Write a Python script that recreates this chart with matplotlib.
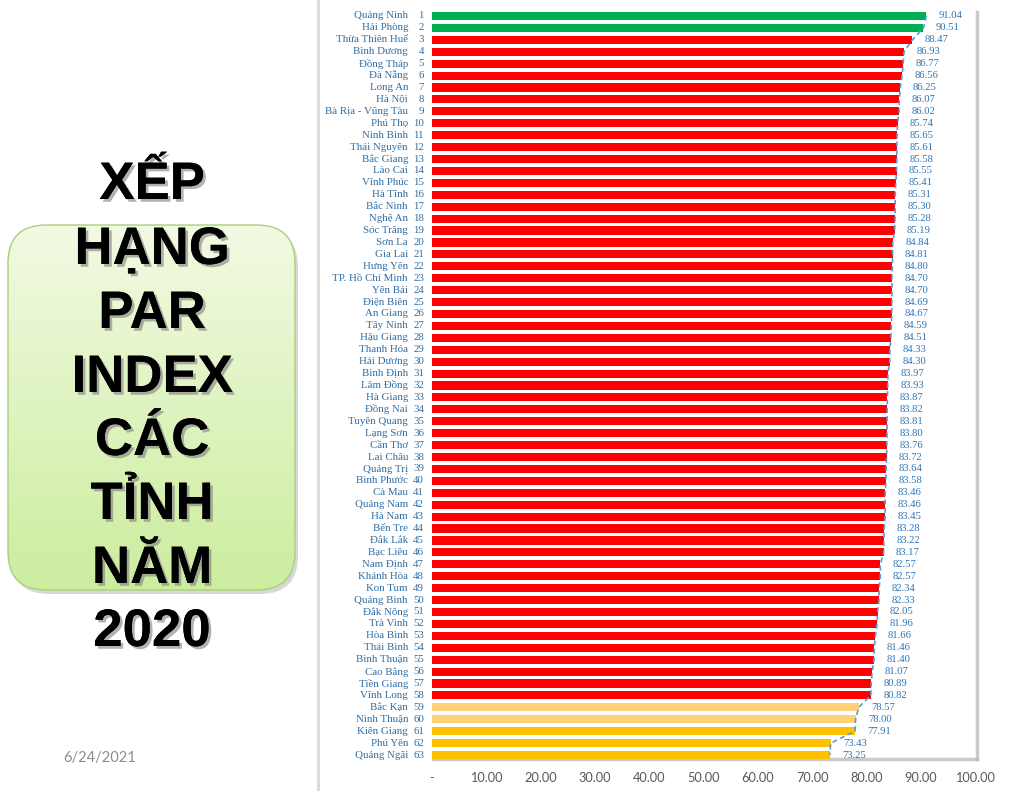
import matplotlib
matplotlib.use("Agg")
import matplotlib.pyplot as plt
import matplotlib.transforms as mtransforms
import matplotlib.patheffects as pe
from matplotlib.patches import FancyBboxPatch
import numpy as np

provinces = ["Quảng Ninh", "Hải Phòng", "Thừa Thiên Huế", "Bình Dương", "Đồng Tháp", "Đà Nẵng",
             "Long An", "Hà Nội", "Bà Rịa - Vũng Tàu", "Phú Thọ", "Ninh Bình", "Thái Nguyên",
             "Bắc Giang", "Lào Cai", "Vĩnh Phúc", "Hà Tĩnh", "Bắc Ninh", "Nghệ An", "Sóc Trăng",
             "Sơn La", "Gia Lai", "Hưng Yên", "TP. Hồ Chí Minh", "Yên Bái", "Điện Biên",
             "An Giang", "Tây Ninh", "Hậu Giang", "Thanh Hóa", "Hải Dương", "Bình Định",
             "Lâm Đồng", "Hà Giang", "Đồng Nai", "Tuyên Quang", "Lạng Sơn", "Cần Thơ",
             "Lai Châu", "Quảng Trị", "Bình Phước", "Cà Mau", "Quảng Nam", "Hà Nam", "Bến Tre",
             "Đắk Lắk", "Bạc Liêu", "Nam Định", "Khánh Hòa", "Kon Tum", "Quảng Bình",
             "Đắk Nông", "Trà Vinh", "Hòa Bình", "Thái Bình", "Bình Thuận", "Cao Bằng",
             "Tiền Giang", "Vĩnh Long", "Bắc Kạn", "Ninh Thuận", "Kiên Giang", "Phú Yên",
             "Quảng Ngãi"]
ranks = list(range(1, 64))
scores = [91.04, 90.51, 88.47, 86.93, 86.77, 86.56, 86.25, 86.07, 86.02, 85.74, 85.65, 85.61,
          85.58, 85.55, 85.41, 85.31, 85.30, 85.28, 85.19, 84.84, 84.81, 84.80, 84.70, 84.70,
          84.69, 84.67, 84.59, 84.51, 84.33, 84.30, 83.97, 83.93, 83.87, 83.82, 83.81, 83.80,
          83.76, 83.72, 83.64, 83.58, 83.46, 83.46, 83.45, 83.28, 83.22, 83.17, 82.57, 82.57,
          82.34, 82.33, 82.05, 81.96, 81.66, 81.46, 81.40, 81.07, 80.89, 80.82, 78.57, 78.00,
          77.91, 73.43, 73.25]
groups = ["top"] * 2 + ["mid"] * 56 + ["low"] * 2 + ["bottom"] * 3
group_colors = {"top": "#00B050", "mid": "#FF0000", "low": "#FFD27A", "bottom": "#FFC000"}
xticks = [0, 10, 20, 30, 40, 50, 60, 70, 80, 90, 100]
xtick_labels = ["-", "10.00", "20.00", "30.00", "40.00", "50.00", "60.00", "70.00", "80.00",
                "90.00", "100.00"]
title_lines = ["XẾP", "HẠNG", "PAR", "INDEX", "CÁC", "TỈNH", "NĂM", "2020"]
date_text = "6/24/2021"

W, H = 1024, 791
fig = plt.figure(figsize=(W / 100, H / 100), dpi=100)
fig.patch.set_facecolor("white")

# ---------- left slide panel ----------
bg = fig.add_axes([0, 0, 1, 1], zorder=0)
bg.set_xlim(0, W)
bg.set_ylim(H, 0)
bg.axis("off")

# box shadow
shadow = FancyBboxPatch((11, 229), 287, 365, boxstyle="round,pad=0,rounding_size=38",
                        facecolor="#BFBFBF", edgecolor="none", alpha=0.6, zorder=1)
bg.add_patch(shadow)
box = FancyBboxPatch((8, 225), 287, 365, boxstyle="round,pad=0,rounding_size=38",
                     facecolor="none", edgecolor="#A9CF7C", linewidth=1.0, zorder=3)
bg.add_patch(box)
grad = np.linspace(0, 1, 256).reshape(-1, 1)
c_top = np.array([0.95, 0.98, 0.89])
c_bot = np.array([0.80, 0.93, 0.62])
img = c_top[None, None, :] * (1 - grad[:, :, None]) + c_bot[None, None, :] * grad[:, :, None]
im = bg.imshow(img, extent=(8, 295, 590, 225), aspect="auto", zorder=2)
im.set_clip_path(FancyBboxPatch((8, 225), 287, 365, boxstyle="round,pad=0,rounding_size=38",
                                transform=bg.transData))

line_y = [185, 250, 314, 378, 441, 505, 569, 632]
for txt, yy in zip(title_lines, line_y):
    bg.text(152, yy, txt, ha="center", va="center", fontsize=38, fontweight="bold",
            family="Liberation Sans", color="black", zorder=5,
            path_effects=[pe.withSimplePatchShadow(offset=(2, -2), shadow_rgbFace="#7F7F7F", alpha=0.6),
                          pe.Normal()])

bg.text(100, 758, date_text, ha="center", va="center", fontsize=10.5, family="Lato",
        color="#8C8C8C", zorder=5)
bg.plot([318, 318], [0, H], color="#D9D9D9", linewidth=2, zorder=4)

# shadow of plot area
bg.plot([977, 977], [12, 759], color="#BDBDBD", linewidth=2.5, zorder=4, alpha=0.8)
bg.plot([433, 977], [759, 759], color="#BDBDBD", linewidth=2.5, zorder=4, alpha=0.8)

# ---------- bar chart ----------
x0, x1 = 432, 975
y_top, y_bot = 10, 761
ax = fig.add_axes([x0 / W, 1 - y_bot / H, (x1 - x0) / W, (y_bot - y_top) / H], zorder=2)
ax.set_facecolor("none")
ax.set_xlim(0, 100)
ax.set_ylim(63.5, 0.5)

colors = [group_colors[g] for g in groups]
ax.barh(ranks, scores, height=0.68, color=colors, zorder=2)
ax.plot(scores, ranks, linestyle=(0, (3, 2)), color="#5B9BD5", linewidth=1.2, zorder=3)

for r, s in zip(ranks, scores):
    ax.annotate(f"{s:.2f}", xy=(s, r), xytext=(9, 0), textcoords="offset points",
                ha="left", va="center", fontsize=7.7, family="Liberation Serif",
                color="#2E75B6")

trans = mtransforms.blended_transform_factory(fig.transFigure, ax.transData)
for name, r in zip(provinces, ranks):
    ax.text(408 / W, r, name, transform=trans, ha="right", va="center", fontsize=7.8,
            family="Liberation Serif", color="#2E6DA4", clip_on=False)
    ax.text(424 / W, r, str(r), transform=trans, ha="right", va="center", fontsize=7.8,
            family="Liberation Serif", color="#2E6DA4", clip_on=False)

ax.set_xticks(xticks)
ax.set_xticklabels(xtick_labels, fontsize=9.2, family="Lato", color="#595959")
ax.tick_params(axis="x", length=0, pad=8)
ax.set_yticks([])
for sp in ax.spines.values():
    sp.set_visible(False)

fig.savefig("out.png", dpi=100, facecolor="white")
